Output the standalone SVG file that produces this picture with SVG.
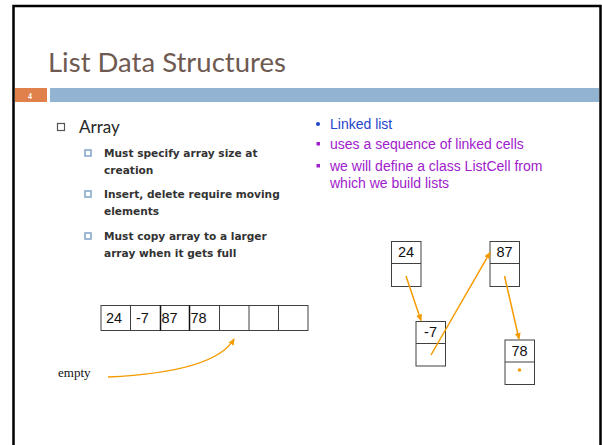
<svg xmlns="http://www.w3.org/2000/svg" width="602" height="445" viewBox="0 0 602 445">
  <defs>
    <marker id="arrow" markerWidth="8" markerHeight="8" refX="6" refY="3" orient="auto" markerUnits="userSpaceOnUse">
      <path d="M0,0 L7,3 L0,6 Z" fill="#F59B00"/>
    </marker>
    <style>
      .title { font-family: "Lato", "Open Sans", sans-serif; font-size: 27.5px; fill: #6E5A51; }
      .lvl1 { font-family: "Lato", "Open Sans", sans-serif; font-size: 17px; fill: #262626; }
      .lvl2 { font-family: "DejaVu Sans", "Lato", sans-serif; font-size: 10.6px; font-weight: bold; fill: #333333; }
      .blue { font-family: "Liberation Sans", Arial, sans-serif; font-size: 14px; fill: #1F44CC; }
      .purple { font-family: "Liberation Sans", Arial, sans-serif; font-size: 14px; fill: #A020CC; }
      .cell { fill: #FFFFFF; stroke: #404040; stroke-width: 1; }
      .num { font-family: "Liberation Sans", Arial, sans-serif; font-size: 14.5px; fill: #111111; }
      .link { fill: none; stroke: #F59B00; stroke-width: 1.5; marker-end: url(#arrow); }
      .sub-bullet { fill: #FFFFFF; stroke: #86A9CC; stroke-width: 1.6; }
    </style>
  </defs>

  <!-- slide frame -->
  <rect x="0" y="0" width="602" height="445" fill="#FFFFFF"/>
  <path d="M13.5,445 L13.5,6 L600.5,6 L600.5,445" fill="none" stroke="#000000" stroke-width="2.5"/>

  <!-- title and header bar -->
  <text class="title" x="48" y="72">List Data Structures</text>
  <rect x="15" y="88" width="32" height="14" fill="#E0804A"/>
  <text x="28" y="98.5" font-family="Liberation Serif, serif" font-size="8" font-weight="bold" fill="#FFFFFF">4</text>
  <rect x="50" y="88" width="549" height="14" fill="#93B3D3"/>

  <!-- left column: array notes -->
  <g id="array-notes">
    <rect x="57.5" y="123.5" width="7" height="7" fill="#FFFFFF" stroke="#555555" stroke-width="1.2"/>
    <text class="lvl1" x="79" y="133">Array</text>
    <rect x="85" y="150" width="6" height="6" class="sub-bullet"/>
    <text class="lvl2" x="104" y="157">Must specify array size at</text>
    <text class="lvl2" x="104" y="174">creation</text>
    <rect x="85" y="191" width="6" height="6" class="sub-bullet"/>
    <text class="lvl2" x="104" y="198">Insert, delete require moving</text>
    <text class="lvl2" x="104" y="215">elements</text>
    <rect x="85" y="233" width="6" height="6" class="sub-bullet"/>
    <text class="lvl2" x="104" y="240">Must copy array to a larger</text>
    <text class="lvl2" x="104" y="257">array when it gets full</text>
  </g>

  <!-- right column: linked list notes -->
  <g id="linked-notes">
    <circle cx="318" cy="124" r="2" fill="#1F44CC"/>
    <text class="blue" x="330" y="129">Linked list</text>
    <rect x="316.5" y="142" width="3.5" height="3.5" fill="#A020CC"/>
    <text class="purple" x="330" y="149">uses a sequence of linked cells</text>
    <rect x="316.5" y="164" width="3.5" height="3.5" fill="#A020CC"/>
    <text class="purple" x="330" y="171">we will define a class ListCell from</text>
    <text class="purple" x="330" y="188">which we build lists</text>
  </g>

  <!-- array drawing -->
  <g id="array">
    <rect class="cell" x="101" y="305.5" width="207" height="25"/>
    <path d="M130.5,305.5 V330.5 M219.5,305.5 V330.5 M249,305.5 V330.5 M278.5,305.5 V330.5" stroke="#404040" stroke-width="1"/>
    <path d="M160.5,305.5 V330.5 M189.5,305.5 V330.5" stroke="#111111" stroke-width="1.5"/>
    <text class="num" x="106" y="323">24</text>
    <text class="num" x="136" y="323">-7</text>
    <text class="num" x="161.5" y="323">87</text>
    <text class="num" x="190.5" y="323">78</text>
  </g>

  <g id="empty-label">
    <text x="58" y="377" font-family="Liberation Serif, serif" font-size="13" fill="#111111">empty</text>
  </g>

  <!-- linked list cells -->
  <g id="cell-24">
    <rect class="cell" x="391.5" y="241.5" width="29.5" height="45"/>
    <line x1="391.5" y1="263.5" x2="421" y2="263.5" stroke="#404040"/>
    <text class="num" x="406" y="257" text-anchor="middle">24</text>
  </g>
  <g id="cell-m7">
    <rect class="cell" x="416" y="321.5" width="29.5" height="44.5"/>
    <line x1="416" y1="343.5" x2="445.5" y2="343.5" stroke="#404040"/>
    <text class="num" x="430.5" y="337" text-anchor="middle">-7</text>
  </g>
  <g id="cell-87">
    <rect class="cell" x="490" y="241.5" width="29.5" height="45"/>
    <line x1="490" y1="263.5" x2="519.5" y2="263.5" stroke="#404040"/>
    <text class="num" x="504.5" y="257" text-anchor="middle">87</text>
  </g>
  <g id="cell-78">
    <rect class="cell" x="505" y="340" width="29.5" height="44.5"/>
    <line x1="505" y1="362" x2="534.5" y2="362" stroke="#404040"/>
    <text class="num" x="519.5" y="356" text-anchor="middle">78</text>
    <circle cx="519.5" cy="370" r="1.8" fill="#F59B00"/>
  </g>

  <!-- connectors -->
  <g id="connectors">
    <path class="link" d="M108,377 Q215,372 234,339"/>
    <path class="link" d="M406,276 L421,320.5"/>
    <path class="link" d="M431,355 L490,252.5"/>
    <path class="link" d="M504.5,276 L519,339"/>
  </g>
</svg>
